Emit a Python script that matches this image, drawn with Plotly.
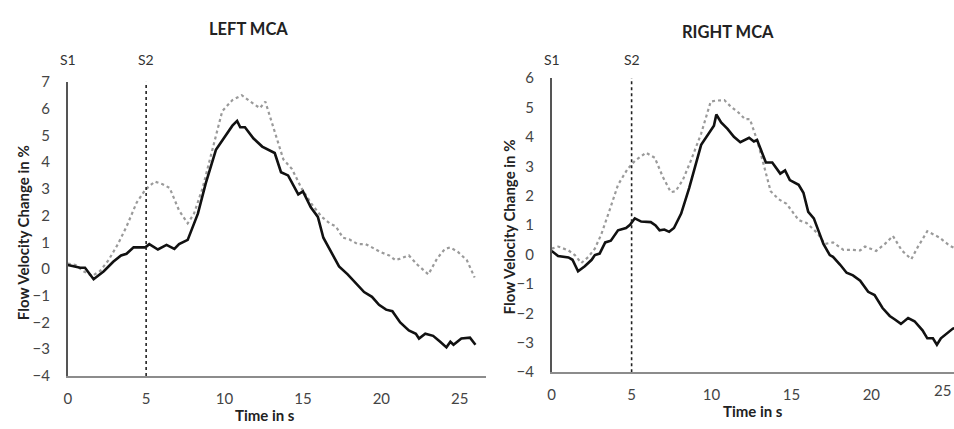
import plotly.graph_objects as go

# ---------------- data ----------------
left_solid_t = [0, 0.8, 1.1, 1.65, 2.3, 2.9, 3.4, 3.75, 4.2, 4.95, 5.2, 5.75, 6.3, 6.8, 7.1, 7.65, 8.3, 8.8,
                9.45, 10.0, 10.5, 10.8, 11.0, 11.3, 11.85, 12.4, 12.8, 13.2, 13.6, 14.05, 14.7, 15.0, 15.5,
                15.95, 16.3, 16.8, 17.3, 17.85, 18.3, 18.9, 19.4, 19.85, 20.3, 20.7, 21.2, 21.75, 22.2, 22.4,
                22.8, 23.3, 23.75, 24.15, 24.4, 24.6, 25.1, 25.65, 26.0]
left_solid_v = [0.15, 0.05, 0.05, -0.38, -0.08, 0.27, 0.51, 0.57, 0.81, 0.81, 0.93, 0.73, 0.9, 0.75, 0.93, 1.09,
                2.07, 3.2, 4.46, 4.94, 5.36, 5.54, 5.3, 5.3, 4.88, 4.58, 4.46, 4.34, 3.62, 3.5, 2.79, 2.9, 2.31,
                1.95, 1.17, 0.63, 0.1, -0.2, -0.5, -0.86, -1.04, -1.34, -1.52, -1.58, -2.0, -2.3, -2.42, -2.6,
                -2.42, -2.5, -2.72, -2.93, -2.72, -2.83, -2.6, -2.57, -2.83]

left_dot_t = [0, 0.5, 1.0, 1.55, 2.05, 2.6, 3.2, 3.75, 4.4, 4.95, 5.55, 6.05, 6.5, 7.1, 7.65, 8.05, 8.6, 9.2,
              9.85, 10.5, 11.1, 11.65, 12.25, 12.6, 13.1, 13.75, 14.3, 14.9, 15.55, 16.2, 16.7, 17.1, 17.55,
              17.95, 18.5, 19.0, 19.4, 19.95, 20.5, 20.9, 21.2, 21.75, 22.3, 23.0, 23.55, 24.05, 24.4, 24.9,
              25.45, 25.95]
left_dot_v = [0.2, 0.15, -0.08, -0.26, -0.08, 0.33, 0.93, 1.59, 2.49, 2.97, 3.27, 3.17, 3.03, 2.19, 1.71, 2.07,
              3.03, 4.46, 5.9, 6.32, 6.5, 6.26, 6.02, 6.26, 5.3, 4.1, 3.74, 3.03, 2.43, 1.95, 1.71, 1.59, 1.17,
              1.11, 0.93, 0.93, 0.81, 0.63, 0.51, 0.33, 0.39, 0.51, 0.16, -0.2, 0.39, 0.75, 0.81, 0.63, 0.33,
              -0.32]

right_solid_t = [0, 0.4, 1.05, 1.3, 1.65, 2.07, 2.5, 2.7, 3.0, 3.35, 3.7, 4.15, 4.65, 4.9, 5.2, 5.6, 6.2, 6.5,
                 6.75, 7.05, 7.35, 7.65, 8.1, 8.6, 9.35, 9.85, 10.15, 10.3, 10.6, 11.0, 11.4, 11.8, 12.35, 12.65,
                 12.85, 13.4, 13.8, 14.3, 14.6, 14.9, 15.45, 15.75, 16.05, 16.4, 17.0, 17.4, 17.6, 18.05, 18.45,
                 18.85, 19.3, 19.8, 20.2, 20.7, 21.15, 21.45, 21.85, 22.3, 22.7, 23.2, 23.5, 23.85, 24.1, 24.35,
                 24.75, 25.1, 25.6]
right_solid_v = [0.12, -0.05, -0.1, -0.18, -0.57, -0.4, -0.18, -0.02, 0.03, 0.41, 0.47, 0.82, 0.9, 1.01, 1.23,
                 1.12, 1.1, 0.99, 0.82, 0.85, 0.77, 0.9, 1.39, 2.26, 3.73, 4.16, 4.38, 4.76, 4.49, 4.27, 4.0, 3.82,
                 3.97, 3.84, 3.89, 3.13, 3.13, 2.75, 2.86, 2.53, 2.37, 2.1, 1.45, 1.23, 0.36, -0.02, -0.08, -0.35,
                 -0.62, -0.71, -0.89, -1.27, -1.38, -1.82, -2.09, -2.2, -2.36, -2.16, -2.27, -2.58, -2.85, -2.85,
                 -3.07, -2.85, -2.66, -2.52, -2.45]

right_dot_t = [0, 0.4, 1.05, 1.45, 1.85, 2.3, 2.7, 3.1, 3.65, 4.15, 4.75, 5.2, 5.9, 6.45, 6.95, 7.45, 7.75, 8.2,
               8.7, 9.35, 9.95, 10.25, 10.8, 11.2, 11.7, 12.1, 12.4, 12.85, 13.25, 13.7, 14.2, 14.7, 15.45, 15.95,
               16.6, 17.1, 17.6, 18.25, 18.75, 19.3, 19.6, 20.3, 20.85, 21.35, 21.9, 22.5, 22.9, 23.5, 24.25,
               24.9, 25.1, 25.6]
right_dot_v = [0.2, 0.27, 0.14, -0.02, -0.29, -0.08, 0.2, 0.68, 1.55, 2.37, 2.91, 3.18, 3.46, 3.29, 2.64, 2.12,
               2.15, 2.53, 3.18, 4.11, 5.2, 5.23, 5.25, 5.03, 4.82, 4.6, 4.6, 3.89, 3.08, 2.15, 1.88, 1.72, 1.17,
               1.07, 0.74, 0.36, 0.41, 0.16, 0.16, 0.14, 0.27, 0.12, 0.36, 0.63, 0.14, -0.16, 0.25, 0.79, 0.58,
               0.3, 0.25, 0.12]

stim_times = [0, 5]
stim_labels = ["S1", "S2"]
panel_titles = ["LEFT MCA", "RIGHT MCA"]
x_ticks = [0, 5, 10, 15, 20, 25]
left_y_range = [-4, 7]
right_y_range = [-4, 6]

# ---------------- figure ----------------
FONT = "Lato, 'Open Sans', sans-serif"
W, H = 954, 429

def px_x(p):
    return p / W

def px_y(p):
    return 1 - p / H

fig = go.Figure()

panels = [
    dict(xa="x", ya="y", st=left_solid_t, sv=left_solid_v, dt=left_dot_t, dv=left_dot_v, yr=left_y_range),
    dict(xa="x2", ya="y2", st=right_solid_t, sv=right_solid_v, dt=right_dot_t, dv=right_dot_v, yr=right_y_range),
]

for p in panels:
    fig.add_trace(go.Scatter(x=p["dt"], y=p["dv"], mode="lines", xaxis=p["xa"], yaxis=p["ya"],
                             line=dict(color="#9a9a9a", width=2.2, dash="dot"), showlegend=False,
                             hoverinfo="skip"))
    fig.add_trace(go.Scatter(x=p["st"], y=p["sv"], mode="lines", xaxis=p["xa"], yaxis=p["ya"],
                             line=dict(color="#111111", width=2.6), showlegend=False, hoverinfo="skip"))
    # S2 marker line
    fig.add_trace(go.Scatter(x=[stim_times[1], stim_times[1]], y=p["yr"], mode="lines",
                             xaxis=p["xa"], yaxis=p["ya"],
                             line=dict(color="#222222", width=1.6, dash="dot"), showlegend=False,
                             hoverinfo="skip"))

tick_font = dict(family=FONT, size=15, color="#444444")
common_x = dict(tickmode="array", tickvals=x_ticks, showgrid=False, zeroline=False, showline=True,
                linecolor="#8c8c8c", linewidth=2, ticks="outside", ticklen=8,
                tickcolor="rgba(0,0,0,0)", tickfont=tick_font, fixedrange=True)
common_y = dict(dtick=1, tick0=0, showgrid=False, zeroline=False, showline=True,
                linecolor="#555555", linewidth=1.5, ticks="outside", ticklen=13,
                tickcolor="rgba(0,0,0,0)", tickfont=tick_font, fixedrange=True)

fig.update_layout(
    width=W, height=H,
    margin=dict(l=0, r=0, t=0, b=0),
    paper_bgcolor="white", plot_bgcolor="white",
    xaxis=dict(domain=[px_x(64), px_x(484)], range=[0, 26.67], anchor="y", **common_x),
    yaxis=dict(domain=[px_y(382), px_y(75)], range=left_y_range, anchor="x", **common_y),
    xaxis2=dict(domain=[px_x(550), 1.0], range=[0, 25.17], anchor="y2", **common_x),
    yaxis2=dict(domain=[px_y(378), px_y(71)], range=right_y_range, anchor="x2", **common_y),
)

ann = []
title_font = dict(family=FONT, size=16.5, color="#222222")
lab_font = dict(family=FONT, size=15, color="#222222")

# panel titles
ann.append(dict(text="<b>" + panel_titles[0] + "</b>", x=px_x(246), y=px_y(20), xref="paper", yref="paper",
                showarrow=False, font=title_font, xanchor="center", yanchor="middle"))
ann.append(dict(text="<b>" + panel_titles[1] + "</b>", x=px_x(727), y=px_y(23), xref="paper", yref="paper",
                showarrow=False, font=title_font, xanchor="center", yanchor="middle"))

# stimulus labels
for xa, ypix in (("x", 52), ("x2", 52)):
    for t, lab in zip(stim_times, stim_labels):
        ann.append(dict(text=lab, x=t, y=px_y(ypix), xref=xa, yref="paper", showarrow=False,
                        font=dict(family=FONT, size=14, color="#333333"), xanchor="center", yanchor="middle"))

# the right panel's last tick label sits at the page edge; keep it fully inside
ann.append(dict(text=str(x_ticks[-1]), x=1.0, y=px_y(397), xref="paper", yref="paper", showarrow=False,
                font=tick_font, xanchor="right", yanchor="middle", xshift=-1))

# axis titles
ann.append(dict(text="<b>Time in s</b>", x=px_x(262), y=px_y(423), xref="paper", yref="paper",
                showarrow=False, font=lab_font, xanchor="center", yanchor="middle"))
ann.append(dict(text="<b>Time in s</b>", x=px_x(752), y=px_y(419), xref="paper", yref="paper",
                showarrow=False, font=lab_font, xanchor="center", yanchor="middle"))
ann.append(dict(text="<b>Flow Velocity Change in %</b>", x=px_x(19), y=px_y(232), xref="paper", yref="paper",
                showarrow=False, font=lab_font, textangle=-90, xanchor="center", yanchor="middle"))
ann.append(dict(text="<b>Flow Velocity Change in %</b>", x=px_x(507), y=px_y(226), xref="paper", yref="paper",
                showarrow=False, font=lab_font, textangle=-90, xanchor="center", yanchor="middle"))

fig.update_layout(annotations=ann)

fig.write_html("out.html")
